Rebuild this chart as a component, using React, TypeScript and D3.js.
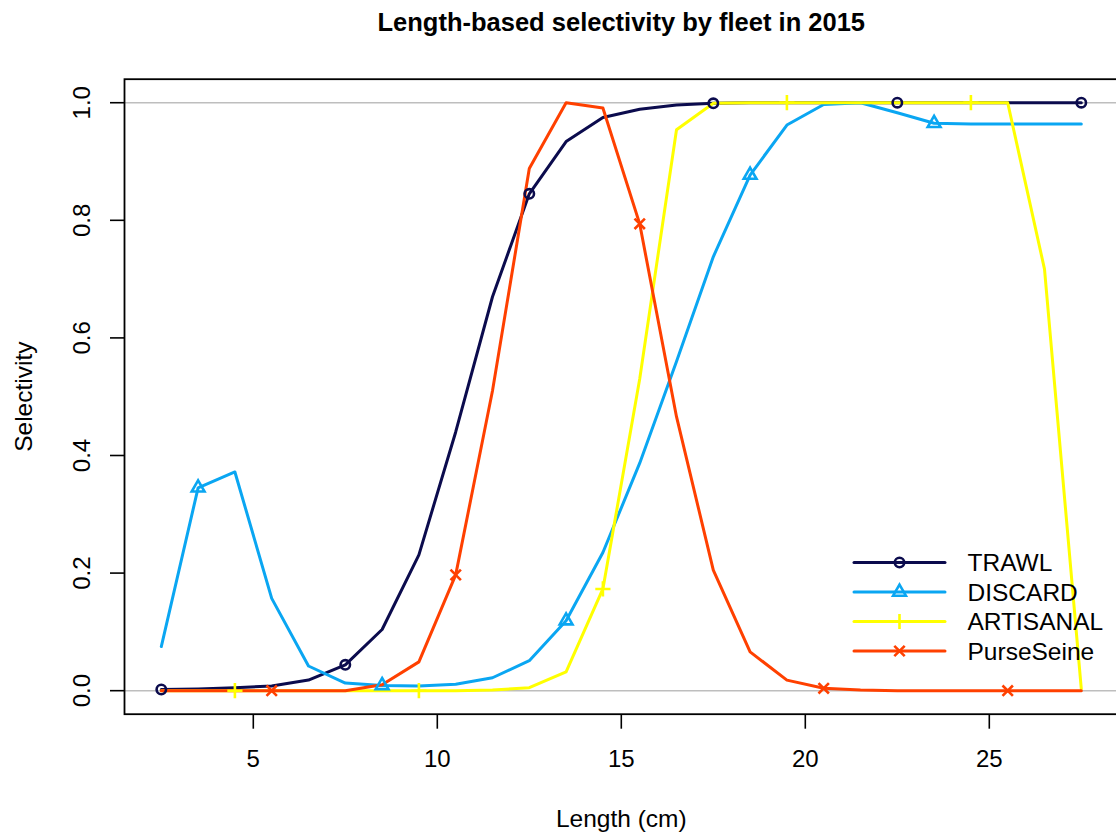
import React from "react";
import * as d3 from "d3";

const WIDTH = 1116;
const HEIGHT = 837;
const FONT = "'Liberation Sans', Arial, sans-serif";

// length classes (cm)
const lengths = [
  2.5, 3.5, 4.5, 5.5, 6.5, 7.5, 8.5, 9.5, 10.5, 11.5, 12.5, 13.5, 14.5,
  15.5, 16.5, 17.5, 18.5, 19.5, 20.5, 21.5, 22.5, 23.5, 24.5, 25.5, 26.5, 27.5,
];

const trawl = [
  0.002, 0.003, 0.005, 0.008, 0.018, 0.044, 0.104, 0.231, 0.44, 0.67, 0.845,
  0.934, 0.975, 0.989, 0.996, 0.999, 1, 1, 1, 1, 1, 1, 1, 1, 1, 1,
];
const discard = [
  0.075, 0.345, 0.372, 0.157, 0.042, 0.013, 0.009, 0.008, 0.011, 0.022, 0.051,
  0.119, 0.235, 0.387, 0.56, 0.738, 0.877, 0.962, 0.997, 1.0, 0.983, 0.965,
  0.964, 0.964, 0.964, 0.964,
];
const artisanal = [
  0, 0, 0, 0, 0, 0, 0, 0, 0, 0.001, 0.005, 0.032, 0.173, 0.53, 0.954, 0.999,
  1, 1, 1, 1, 1, 1, 1, 1, 0.717, 0.003,
];
const purseSeine = [
  0, 0, 0, 0, 0, 0, 0.01, 0.049, 0.197, 0.51, 0.888, 1.0, 0.991, 0.794, 0.466,
  0.205, 0.066, 0.018, 0.004, 0.001, 0, 0, 0, 0, 0, 0,
];

const fleetNames = ["TRAWL", "DISCARD", "ARTISANAL", "PurseSeine"];
const fleetColors = ["#0b0b4d", "#0aa6f2", "#ffff00", "#ff4000"];
const fleetSymbols = ["circle", "triangle", "plus", "cross"];
const fleetValues = [trawl, discard, artisanal, purseSeine];

const xTicks = [5, 10, 15, 20, 25];
const yTicks = [0, 0.2, 0.4, 0.6, 0.8, 1.0];
const refLines = [0, 1];

// R style: 4% padding on each side of the data range
const x = d3.scaleLinear().domain([1.5, 28.5]).range([124.5, 1118.1]);
const y = d3.scaleLinear().domain([-0.04, 1.04]).range([714.2, 79.2]);

function Marker({ kind, cx, cy, color }) {
  const sw = 2.6;
  if (kind === "circle")
    return <circle cx={cx} cy={cy} r={4.7} fill="none" stroke={color} strokeWidth={sw} />;
  if (kind === "triangle") {
    const r = 7.4, xc = 6.4, yc = 3.7;
    return (
      <path
        d={`M${cx},${cy - r}L${cx + xc},${cy + yc}L${cx - xc},${cy + yc}Z`}
        fill="none" stroke={color} strokeWidth={sw} strokeLinejoin="miter"
      />
    );
  }
  if (kind === "plus") {
    const h = 7.6;
    return (
      <path d={`M${cx - h},${cy}H${cx + h}M${cx},${cy - h}V${cy + h}`} stroke={color} strokeWidth={sw} />
    );
  }
  const h = 5.2;
  return (
    <path
      d={`M${cx - h},${cy - h}L${cx + h},${cy + h}M${cx - h},${cy + h}L${cx + h},${cy - h}`}
      stroke={color} strokeWidth={sw}
    />
  );
}

export default function App() {
  const line = d3
    .line<number>()
    .x((_, i) => x(lengths[i]))
    .y((d) => y(d));

  const [x0, x1] = x.range();
  const [yb, yt] = y.range();

  const legendX = 854;
  const legendRows = [562.5, 592, 621.5, 651];

  return (
    <svg
      width={WIDTH}
      height={HEIGHT}
      style={{ position: "absolute", left: 0, top: 0, background: "#fff" }}
      fontFamily={FONT}
    >
      <rect width={WIDTH} height={HEIGHT} fill="#fff" />

      {/* title */}
      <text x={(x0 + x1) / 2} y={31} textAnchor="middle" fontSize={25.5} fontWeight="bold">
        Length-based selectivity by fleet in 2015
      </text>

      {/* reference lines */}
      {refLines.map((v) => (
        <line key={v} x1={x0} x2={x1} y1={y(v)} y2={y(v)} stroke="#bebebe" strokeWidth={1.6} />
      ))}

      {/* series lines */}
      {fleetValues.map((vals, k) => (
        <path
          key={fleetNames[k]}
          d={line(vals) || ""}
          fill="none"
          stroke={fleetColors[k]}
          strokeWidth={3}
          strokeLinejoin="round"
          strokeLinecap="round"
        />
      ))}

      {/* markers every 5th point, offset per fleet */}
      {fleetValues.map((vals, k) =>
        vals.map((v, i) =>
          (i - k) % 5 === 0 && i >= k ? (
            <Marker
              key={`${k}-${i}`}
              kind={fleetSymbols[k]}
              cx={x(lengths[i])}
              cy={y(v)}
              color={fleetColors[k]}
            />
          ) : null
        )
      )}

      {/* box */}
      <rect x={x0} y={yt} width={x1 - x0} height={yb - yt} fill="none" stroke="#000" strokeWidth={1.8} />

      {/* x axis */}
      {xTicks.map((t) => (
        <g key={t}>
          <line x1={x(t)} x2={x(t)} y1={yb} y2={yb + 14.5} stroke="#000" strokeWidth={1.6} />
          <text x={x(t)} y={767} textAnchor="middle" fontSize={24}>
            {t}
          </text>
        </g>
      ))}
      <text x={(x0 + x1) / 2} y={827} textAnchor="middle" fontSize={24.5}>
        Length (cm)
      </text>

      {/* y axis */}
      {yTicks.map((t) => (
        <g key={t}>
          <line x1={x0 - 14.5} x2={x0} y1={y(t)} y2={y(t)} stroke="#000" strokeWidth={1.6} />
          <text
            transform={`translate(90,${y(t)}) rotate(-90)`}
            textAnchor="middle"
            fontSize={24}
          >
            {t.toFixed(1)}
          </text>
        </g>
      ))}
      <text
        transform={`translate(31.5,${(yt + yb) / 2}) rotate(-90)`}
        textAnchor="middle"
        fontSize={24.5}
      >
        Selectivity
      </text>

      {/* legend */}
      {fleetNames.map((name, k) => (
        <g key={name}>
          <line
            x1={legendX}
            x2={legendX + 91}
            y1={legendRows[k]}
            y2={legendRows[k]}
            stroke={fleetColors[k]}
            strokeWidth={3}
            strokeLinecap="round"
          />
          <Marker kind={fleetSymbols[k]} cx={legendX + 45.5} cy={legendRows[k]} color={fleetColors[k]} />
          <text x={967.5} y={legendRows[k] + 8.6} fontSize={24.5}>
            {name}
          </text>
        </g>
      ))}
    </svg>
  );
}
